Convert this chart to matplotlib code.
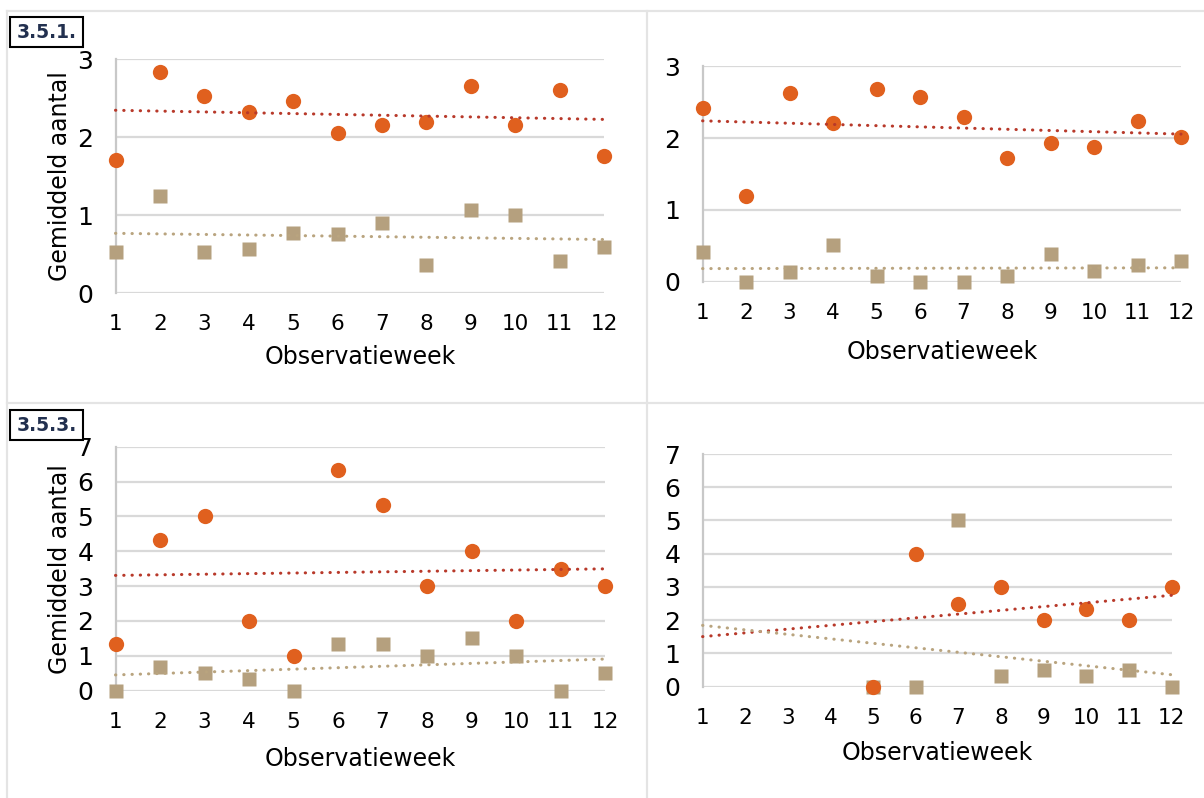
import numpy as np
import matplotlib
matplotlib.use("Agg")
import matplotlib.pyplot as plt
from matplotlib.lines import Line2D
from matplotlib.patches import Rectangle

plt.rcParams['font.family'] = ['DejaVu Sans']

weeks = np.arange(1, 13)

# 3.5.1 (left) and its companion chart (right)
p1_orange = [1.70, 2.83, 2.53, 2.32, 2.46, 2.05, 2.16, 2.19, 2.65, 2.16, 2.60, 1.76]
p1_tan = [0.52, 1.24, 0.53, 0.57, 0.77, 0.76, 0.90, 0.355, 1.06, 1.00, 0.41, 0.59]

p2_orange = [2.41, 1.19, 2.63, 2.21, 2.68, 2.57, 2.29, 1.72, 1.93, 1.875, 2.24, 2.01]
p2_tan = [0.41, 0.0, 0.14, 0.51, 0.09, 0.0, 0.0, 0.08, 0.39, 0.15, 0.24, 0.29]

# 3.5.3 (left) and its companion chart (right)
p3_orange = [1.33, 4.33, 5.0, 2.0, 1.0, 6.33, 5.33, 3.0, 4.0, 2.0, 3.5, 3.0]
p3_tan = [0.0, 0.67, 0.5, 0.33, 0.0, 1.33, 1.33, 1.0, 1.5, 1.0, 0.0, 0.5]

p4_orange = [np.nan, np.nan, np.nan, np.nan, 0.0, 4.0, 2.5, 3.0, 2.0, 2.33, 2.0, 3.0]
p4_tan = [np.nan, np.nan, np.nan, np.nan, 0.0, 0.0, 5.0, 0.33, 0.5, 0.33, 0.5, 0.0]

section_labels = ["3.5.1.", "3.5.3."]
y_label = "Gemiddeld aantal"
x_label = "Observatieweek"

ORANGE = "#E0601E"
ORANGE_TREND = "#B8392A"
TAN = "#B5A07E"
TAN_TREND = "#B9A47F"
GRID = "#D9D9D9"
BORDER = "#E4E4E4"

W, H = 1204, 798
fig = plt.figure(figsize=(W / 100, H / 100), dpi=100)
fig.patch.set_facecolor("white")


def px_axes(x0, x1, ytop, ybot):
    return fig.add_axes([x0 / W, 1 - ybot / H, (x1 - x0) / W, (ybot - ytop) / H])


def trend(ax, y, color):
    y = np.asarray(y, dtype=float)
    ok = ~np.isnan(y)
    coef = np.polyfit(weeks[ok], y[ok], 1)
    ax.plot(weeks, np.polyval(coef, weeks), color=color, lw=2.2,
            linestyle=(0, (0.1, 2.6)), dash_capstyle="round", zorder=5,
            clip_on=False)


def panel(ax, orange, tan, ymax, ylab, xlab_y):
    ax.set_xlim(1, 12)
    ax.set_ylim(0, ymax)
    ax.set_xticks(weeks)
    ax.set_yticks(range(0, ymax + 1))
    for s in ["top", "right", "bottom"]:
        ax.spines[s].set_visible(False)
    ax.spines["left"].set_color("#C8C8C8")
    ax.spines["left"].set_linewidth(1.6)
    ax.grid(axis="y", color=GRID, lw=1.6)
    ax.set_axisbelow(True)
    ax.tick_params(axis="both", length=0)
    ax.tick_params(axis="x", labelsize=15.5, pad=15)
    ax.tick_params(axis="y", labelsize=18, pad=16)

    ax.plot(weeks, tan, "s", color=TAN, ms=10.5, mec="none", zorder=3, clip_on=False)
    ax.plot(weeks, orange, "o", color=ORANGE, ms=11, mec="none", zorder=4, clip_on=False)
    trend(ax, orange, ORANGE_TREND)
    trend(ax, tan, TAN_TREND)

    ax.set_xlabel(x_label, fontsize=17)
    ax.xaxis.label.set_va("center")
    ax.xaxis.set_label_coords(0.5, xlab_y)
    if ylab:
        ax.set_ylabel(y_label, fontsize=17)
        ax.yaxis.label.set_va("center")
        ax.yaxis.set_label_coords(-0.1136, 0.5)


ax1 = px_axes(115.5, 604, 59, 293)
ax2 = px_axes(702.6, 1181, 66, 282)
ax3 = px_axes(115.5, 605, 446.7, 690.7)
ax4 = px_axes(702.6, 1171.7, 454, 686.7)

panel(ax1, p1_orange, p1_tan, 3, True, -0.2756)
panel(ax2, p2_orange, p2_tan, 3, False, -0.3218)
panel(ax3, p3_orange, p3_tan, 7, True, -0.28)
panel(ax4, p4_orange, p4_tan, 7, False, -0.283)

# table borders around the four charts
def hline(y, x0, x1):
    fig.add_artist(Line2D([x0 / W, x1 / W], [1 - y / H, 1 - y / H], color=BORDER, lw=1.6))


def vline(x, y0, y1):
    fig.add_artist(Line2D([x / W, x / W], [1 - y0 / H, 1 - y1 / H], color=BORDER, lw=1.6))


hline(10.5, 7, W)
hline(403.3, 7, W)
vline(7, 10.5, H)
vline(646.5, 10.5, H)

# numbered section boxes
for label, ytop in zip(section_labels, [17, 410]):
    fig.add_artist(Rectangle((10 / W, 1 - (ytop + 30) / H), 73 / W, 30 / H,
                             transform=fig.transFigure, facecolor="white",
                             edgecolor="black", lw=1.5, zorder=10))
    fig.text(46.5 / W, 1 - (ytop + 15) / H, label, ha="center", va="center",
             fontsize=13.5, fontweight="bold", color="#22304F", zorder=11)

fig.savefig("out.png", dpi=100, facecolor="white")
